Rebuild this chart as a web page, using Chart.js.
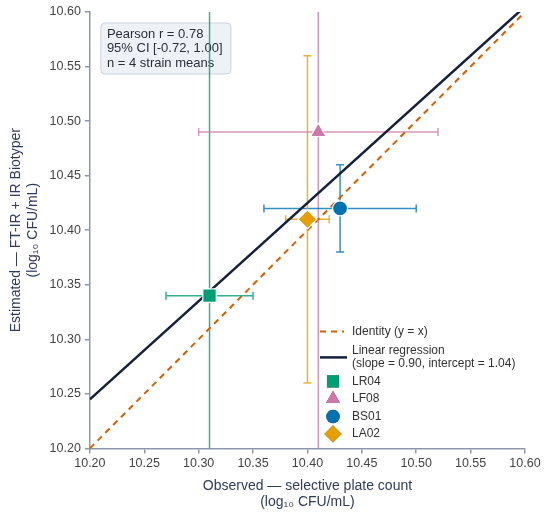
<!DOCTYPE html>
<html>
<head>
<meta charset="utf-8">
<script src="https://cdn.jsdelivr.net/npm/chart.js@4.4.0/dist/chart.umd.min.js"></script>
<style>
  html, body { margin: 0; padding: 0; background: #fff; }
  #wrap { width: 550px; height: 514px; position: relative; }
</style>
</head>
<body>
<div id="wrap"><canvas id="chart"></canvas></div>
<script>
// strain means (log10 CFU/mL)
const strains = ['LR04', 'LF08', 'BS01', 'LA02'];
const observed = [10.31, 10.41, 10.43, 10.40];
const estimated = [10.34, 10.49, 10.42, 10.41];
const observedErr = [0.04, 0.11, 0.07, 0.02];
const estimatedErr = [0.32, 0.32, 0.04, 0.15];
const colors = ['#009E73', '#CC79A7', '#0072B2', '#E69F00'];
const shapes = ['rect', 'triangle', 'circle', 'rectRot'];
const sizes = [9.5, 9, 7.5, 9.5];

const identityX = [10.2, 10.6];
const regressionX = [10.2, 10.6];
const regressionY = [10.245, 10.605];

const axisTicks = [10.20, 10.25, 10.30, 10.35, 10.40, 10.45, 10.50, 10.55, 10.60];
const statsText = ['Pearson r = 0.78', '95% CI [-0.72, 1.00]', 'n = 4 strain means'];
const legendLabels = ['Identity (y = x)', ['Linear regression', '(slope = 0.90, intercept = 1.04)']];

const FONT = '"Liberation Sans", Arial, sans-serif';
const SPINE = '#8d97aa';
const TITLE = '#2e3b5e';
const NAVY = '#14213d';
const IDENT = '#D55E00';

function alpha(hex, a) {
  const n = parseInt(hex.slice(1), 16);
  return `rgba(${n >> 16},${(n >> 8) & 255},${n & 255},${a})`;
}

// stats box + error bars, under the markers
const underlay = {
  id: 'underlay',
  beforeDatasetsDraw(chart) {
    const {ctx, chartArea: a, scales: {x, y}} = chart;
    ctx.save();
    // stats box
    const bx = a.left + 11, by = a.top + 11, bw = 130, bh = 51;
    ctx.beginPath();
    ctx.roundRect(bx, by, bw, bh, 4);
    ctx.fillStyle = '#eef2f7';
    ctx.fill();
    ctx.strokeStyle = '#c8d2df';
    ctx.lineWidth = 1;
    ctx.stroke();
    ctx.fillStyle = '#2b2f3a';
    ctx.font = '13px ' + FONT;
    ctx.textBaseline = 'middle';
    statsText.forEach((t, i) => ctx.fillText(t, bx + 6, by + 11 + i * 14.5));

    // error bars
    ctx.beginPath();
    ctx.rect(a.left, a.top, a.right - a.left, a.bottom - a.top);
    ctx.clip();
    ctx.lineWidth = 1.5;
    const cap = 4;
    strains.forEach((s, i) => {
      const px = x.getPixelForValue(observed[i]);
      const py = y.getPixelForValue(estimated[i]);
      const x0 = x.getPixelForValue(observed[i] - observedErr[i]);
      const x1 = x.getPixelForValue(observed[i] + observedErr[i]);
      const y0 = y.getPixelForValue(estimated[i] - estimatedErr[i]);
      const y1 = y.getPixelForValue(estimated[i] + estimatedErr[i]);
      ctx.strokeStyle = alpha(colors[i], 0.8);
      ctx.beginPath();
      ctx.moveTo(x0, py); ctx.lineTo(x1, py);
      ctx.moveTo(x0, py - cap); ctx.lineTo(x0, py + cap);
      ctx.moveTo(x1, py - cap); ctx.lineTo(x1, py + cap);
      ctx.moveTo(px, y0); ctx.lineTo(px, y1);
      ctx.moveTo(px - cap, y0); ctx.lineTo(px + cap, y0);
      ctx.moveTo(px - cap, y1); ctx.lineTo(px + cap, y1);
      ctx.stroke();
    });
    ctx.restore();
  }
};

// legend in lower right of the plot
const legendBox = {
  id: 'legendBox',
  afterDraw(chart) {
    const {ctx, chartArea: a} = chart;
    const hx = a.right - 205, tx = hx + 32;
    let ty = a.bottom - 117;
    ctx.save();
    ctx.font = '12px ' + FONT;
    ctx.textBaseline = 'middle';
    ctx.fillStyle = '#333';
    // identity
    ctx.strokeStyle = IDENT;
    ctx.lineWidth = 2;
    ctx.setLineDash([6, 5]);
    ctx.beginPath(); ctx.moveTo(hx, ty); ctx.lineTo(hx + 24, ty); ctx.stroke();
    ctx.setLineDash([]);
    ctx.fillText(legendLabels[0], tx, ty);
    // regression
    ty += 19;
    ctx.strokeStyle = NAVY;
    ctx.lineWidth = 2.5;
    ctx.beginPath(); ctx.moveTo(hx, ty + 7); ctx.lineTo(hx + 27, ty + 7); ctx.stroke();
    ctx.fillText(legendLabels[1][0], tx, ty);
    ctx.fillText(legendLabels[1][1], tx, ty + 13);
    ty += 31;
    strains.forEach((s, i) => {
      Chart.helpers.drawPoint(ctx, {
        pointStyle: shapes[i], radius: sizes[i] * 0.9, borderWidth: 0
      }, hx + 13, ty + i * 17.5);
      ctx.fillStyle = colors[i];
      ctx.fill();
      ctx.fillStyle = '#333';
      ctx.fillText(s, tx, ty + i * 17.5);
    });
    ctx.restore();
  }
};

const pointSets = strains.map((s, i) => ({
  label: s,
  data: [{x: observed[i], y: estimated[i]}],
  pointStyle: shapes[i],
  pointRadius: sizes[i],
  backgroundColor: colors[i],
  borderColor: '#fff',
  borderWidth: 1.2,
  showLine: false
}));

new Chart(document.getElementById('chart'), {
  type: 'scatter',
  data: {
    datasets: [
      ...pointSets,
      {
        label: 'Linear regression',
        data: regressionX.map((v, i) => ({x: v, y: regressionY[i]})),
        showLine: true,
        borderColor: NAVY,
        borderWidth: 2.5,
        pointRadius: 0
      },
      {
        label: 'Identity (y = x)',
        data: identityX.map(v => ({x: v, y: v})),
        showLine: true,
        borderColor: IDENT,
        borderWidth: 2,
        borderDash: [6, 5],
        pointRadius: 0
      }
    ]
  },
  options: {
    responsive: true,
    maintainAspectRatio: false,
    animation: false,
    layout: { padding: { top: 12, right: 25, left: 8, bottom: 3 } },
    plugins: {
      legend: { display: false },
      tooltip: { enabled: false }
    },
    scales: {
      x: {
        type: 'linear',
        min: 10.2,
        max: 10.6,
        afterBuildTicks: s => { s.ticks = axisTicks.map(v => ({value: v})); },
        ticks: {
          callback: v => v.toFixed(2),
          color: '#444',
          font: { family: FONT, size: 12.5 },
          padding: 3,
          maxRotation: 0
        },
        grid: { drawOnChartArea: false, tickLength: 5, color: SPINE, lineWidth: 1.5 },
        border: { color: SPINE, width: 1.5 },
        title: {
          display: true,
          text: ['Observed — selective plate count', '(log₁₀ CFU/mL)'],
          color: TITLE,
          font: { family: FONT, size: 14 },
          padding: { top: 3, bottom: 0 }
        }
      },
      y: {
        type: 'linear',
        min: 10.2,
        max: 10.6,
        afterBuildTicks: s => { s.ticks = axisTicks.map(v => ({value: v})); },
        ticks: {
          callback: v => v.toFixed(2),
          color: '#444',
          font: { family: FONT, size: 12.5 },
          padding: 4
        },
        grid: { drawOnChartArea: false, tickLength: 5, color: SPINE, lineWidth: 1.5 },
        border: { color: SPINE, width: 1.5 },
        title: {
          display: true,
          text: ['Estimated — FT-IR + IR Biotyper', '(log₁₀ CFU/mL)'],
          color: TITLE,
          font: { family: FONT, size: 14 },
          padding: { top: 0, bottom: 4 }
        }
      }
    }
  },
  plugins: [underlay, legendBox]
});
</script>
</body>
</html>
